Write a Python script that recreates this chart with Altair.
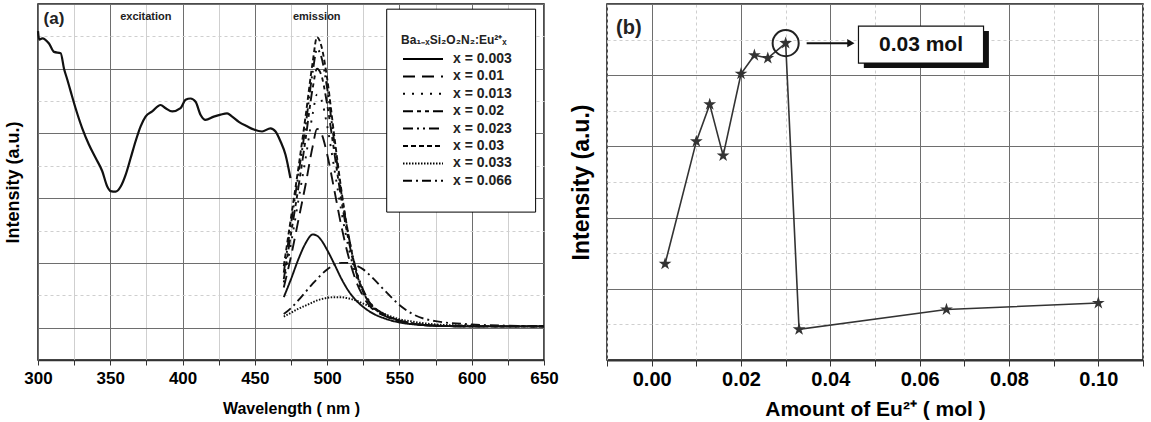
import altair as alt
import pandas as pd

# ---------------- Panel (a) data ----------------
exc_nm = [300.0, 300.8, 303.0, 307.6, 311.1, 315.7, 318.0, 320.3, 322.6, 326.0, 330.6, 335.2,
          339.9, 344.4, 347.9, 350.2, 353.7, 357.2, 360.6, 364.1, 367.5, 371.0, 374.4, 379.0,
          384.8, 388.3, 392.8, 398.6, 402.1, 405.5, 409.0, 412.4, 415.9, 421.6, 426.3, 430.8,
          434.3, 438.9, 444.6, 449.3, 455.0, 460.8, 464.3, 467.7, 471.2, 474.6]
exc_int = [4.58, 4.45, 4.47, 4.39, 4.26, 4.24, 4.00, 3.83, 3.65, 3.39, 3.08, 2.83,
           2.62, 2.42, 2.18, 2.11, 2.10, 2.18, 2.36, 2.62, 2.88, 3.11, 3.26, 3.34,
           3.44, 3.39, 3.34, 3.39, 3.52, 3.54, 3.49, 3.29, 3.21, 3.26, 3.29, 3.31,
           3.26, 3.18, 3.11, 3.06, 3.03, 3.08, 3.03, 2.88, 2.67, 2.31]

em_nm = [470, 475, 480, 485, 490, 493, 496, 500, 505, 510, 515, 520, 525, 530, 540, 550, 560, 575, 600, 625, 650]
em_x0003 = [0.47, 0.75, 1.05, 1.30, 1.44, 1.42, 1.35, 1.20, 0.98, 0.75, 0.56, 0.42, 0.32, 0.24, 0.14, 0.08, 0.05, 0.03, 0.02, 0.02, 0.02]
em_x0010 = [0.62, 1.10, 1.65, 2.20, 2.80, 3.07, 3.00, 2.68, 2.12, 1.55, 1.08, 0.72, 0.48, 0.32, 0.18, 0.10, 0.06, 0.03, 0.02, 0.02, 0.02]
em_x0013 = [0.70, 1.30, 1.95, 2.60, 3.30, 3.60, 3.52, 3.12, 2.45, 1.78, 1.22, 0.80, 0.52, 0.35, 0.19, 0.10, 0.06, 0.03, 0.02, 0.02, 0.02]
em_x0020 = [0.75, 1.45, 2.15, 2.90, 3.70, 4.00, 3.90, 3.45, 2.70, 1.95, 1.33, 0.86, 0.56, 0.37, 0.20, 0.11, 0.06, 0.03, 0.02, 0.02, 0.02]
em_x0023 = [0.85, 1.60, 2.35, 3.10, 3.95, 4.30, 4.18, 3.70, 2.85, 2.05, 1.40, 0.90, 0.58, 0.38, 0.20, 0.11, 0.06, 0.03, 0.02, 0.02, 0.02]
em_x0030 = [0.95, 1.70, 2.45, 3.25, 4.10, 4.49, 4.35, 3.85, 2.95, 2.10, 1.40, 0.88, 0.55, 0.36, 0.19, 0.10, 0.06, 0.03, 0.02, 0.02, 0.02]
em_x0033 = [0.17, 0.23, 0.29, 0.34, 0.39, 0.42, 0.44, 0.46, 0.47, 0.47, 0.45, 0.42, 0.37, 0.32, 0.21, 0.13, 0.09, 0.05, 0.03, 0.02, 0.02]
em_x0066 = [0.21, 0.30, 0.42, 0.55, 0.68, 0.75, 0.82, 0.90, 0.97, 1.00, 1.00, 0.96, 0.90, 0.80, 0.57, 0.35, 0.20, 0.10, 0.05, 0.03, 0.02]

series_labels = ["x = 0.003", "x = 0.01", "x = 0.013", "x = 0.02",
                 "x = 0.023", "x = 0.03", "x = 0.033", "x = 0.066"]
series_values = [em_x0003, em_x0010, em_x0013, em_x0020, em_x0023, em_x0030, em_x0033, em_x0066]
series_dashes = [[1, 0], [12, 7], [2, 7], [10, 4, 4, 4, 4, 4],
                 [10, 4, 2, 4, 2, 4], [5, 3], [1.5, 1.5], [9, 4, 2, 4]]

a_x_ticks = [300, 325, 350, 375, 400, 425, 450, 475, 500, 525, 550, 575, 600, 625, 650]
a_y_ticks = [-0.5, 0, 0.5, 1, 1.5, 2, 2.5, 3, 3.5, 4, 4.5, 5]

# ---------------- Panel (b) data ----------------
eu_mol = [0.003, 0.010, 0.013, 0.016, 0.020, 0.023, 0.026, 0.030, 0.033, 0.066, 0.100]
eu_int = [1.35, 3.07, 3.59, 2.87, 4.02, 4.28, 4.24, 4.45, 0.43, 0.71, 0.80]

b_x_ticks = [-0.01, 0.0, 0.01, 0.02, 0.03, 0.04, 0.05, 0.06, 0.07, 0.08, 0.09, 0.10, 0.11]
b_y_ticks = [0, 0.5, 1, 1.5, 2, 2.5, 3, 3.5, 4, 4.5, 5]

FONT = "Liberation Sans"
LEGEND_LINE = "M-1,0H7"

def grid_color(test):
    return {"condition": {"test": test, "value": "#6e6e6e"}, "value": "#cfcfcf"}

def grid_dash(test):
    return {"condition": {"test": test, "value": []}, "value": [3, 3]}

# ================= Panel (a) =================
exc_df = pd.DataFrame({"nm": exc_nm, "val": exc_int})
rows = []
for lab, vals in zip(series_labels, series_values):
    for w, v in zip(em_nm, vals):
        rows.append({"nm": w, "val": v, "series": lab})
em_df = pd.DataFrame(rows)

xa = alt.X("nm:Q", scale=alt.Scale(domain=[300, 650], nice=False, zero=False),
           axis=alt.Axis(values=a_x_ticks, title="Wavelength ( nm )",
                         labelExpr="datum.value % 50 == 0 ? datum.label : ''",
                         labelFlush=False, labelOverlap=False,
                         labelFontSize=17, labelFontWeight="bold", labelFont=FONT,
                         labelPadding=5, tickSize=5, tickColor="#333", domainColor="#333",
                         domainWidth=1.5, titleFontSize=16, titleFontWeight="bold",
                         titleFont=FONT, titlePadding=14,
                         gridColor=grid_color("datum.value % 50 == 0"), gridWidth=1))
ya = alt.Y("val:Q", scale=alt.Scale(domain=[-0.5, 5], nice=False, zero=False),
           axis=alt.Axis(values=a_y_ticks, title="Intensity (a.u.)", labels=False, ticks=False,
                         domain=False, titleFontSize=18, titleFontWeight="bold", titleFont=FONT,
                         titlePadding=16, minExtent=0,
                         gridColor=grid_color("datum.value % 1 == 0"),
                         gridDash=grid_dash("datum.value % 1 == 0")))

legbox_df = pd.DataFrame({"nm": [541.2], "nm2": [644.2], "val": [4.92], "val2": [1.785]})
legbox = alt.Chart(legbox_df).mark_rect(fill="white", stroke="black", strokeWidth=1).encode(
    x=xa, x2="nm2:Q", y=ya, y2="val2:Q")

exc = alt.Chart(exc_df).mark_line(color="#111", strokeWidth=2.2, interpolate="monotone").encode(x=xa, y=ya)

em = alt.Chart(em_df).mark_line(color="#111", strokeWidth=1.9, interpolate="monotone").encode(
    x=xa, y=ya,
    strokeDash=alt.StrokeDash("series:N",
        scale=alt.Scale(domain=series_labels, range=series_dashes),
        legend=alt.Legend(title="Ba₁₋ₓSi₂O₂N₂:Eu²⁺ₓ", orient="none", legendX=363, legendY=31,
                          symbolType=LEGEND_LINE, symbolSize=100, symbolStrokeWidth=2,
                          symbolStrokeColor="black", symbolFillColor="transparent",
                          labelFont=FONT, labelFontSize=14,
                          labelFontWeight="bold", labelColor="#222", labelOffset=38,
                          titleFont=FONT, titleFontSize=12, titleFontWeight="bold",
                          titleColor="#222", titlePadding=5, rowPadding=3.4, padding=0)),
    detail="series:N")

a_text_df = pd.DataFrame({"nm": [311.0, 374.6, 492.8], "val": [4.77, 4.8, 4.8],
                          "txt": ["(a)", "excitation", "emission"],
                          "size": [17, 11, 11]})
a_text = alt.Chart(a_text_df).mark_text(font=FONT, fontWeight="bold", color="#222").encode(
    x=xa, y=ya, text="txt:N", size=alt.Size("size:Q", scale=None, legend=None))

panel_a = alt.layer(legbox, exc, em, a_text).properties(width=506, height=356)

# ================= Panel (b) =================
b_df = pd.DataFrame({"mol": eu_mol, "val": eu_int})

xb = alt.X("mol:Q", scale=alt.Scale(domain=[-0.01, 0.11], nice=False, zero=False),
           axis=alt.Axis(values=b_x_ticks, title="Amount of Eu²⁺ ( mol )",
                         labelExpr="(abs(round(datum.value*100)) % 2 == 0 && datum.value > -0.005 && datum.value < 0.105) ? format(datum.value, '.2f') : ''",
                         labelFlush=False, labelOverlap=False,
                         labelFontSize=20, labelFontWeight="bold", labelFont=FONT,
                         labelPadding=3, tickSize=6, tickColor="#333", domainColor="#333",
                         domainWidth=2, titleFontSize=21, titleFontWeight="bold",
                         titleFont=FONT, titlePadding=9,
                         gridColor=grid_color("abs(round(datum.value*100)) % 2 == 0"),
                         gridDash=grid_dash("abs(round(datum.value*100)) % 2 == 0")))
yb = alt.Y("val:Q", scale=alt.Scale(domain=[0, 5], nice=False, zero=False),
           axis=alt.Axis(values=b_y_ticks, title="Intensity (a.u.)", labels=False, ticks=False,
                         domain=False, titleFontSize=23, titleFontWeight="bold", titleFont=FONT,
                         titlePadding=14, minExtent=0,
                         gridColor=grid_color("datum.value % 1 == 0"),
                         gridDash=grid_dash("datum.value % 1 == 0")))

STAR = "M0,-1L0.2245,-0.309L0.951,-0.309L0.363,0.118L0.588,0.809L0,0.382L-0.588,0.809L-0.363,0.118L-0.951,-0.309L-0.2245,-0.309Z"

b_line = alt.Chart(b_df).mark_line(color="#333", strokeWidth=1.6).encode(x=xb, y=yb)
b_pts = alt.Chart(b_df).mark_point(shape=STAR, filled=True, color="#333", size=180, opacity=1).encode(x=xb, y=yb)

callout_mol = [0.030]
callout_int = [4.45]
circ_df = pd.DataFrame({"mol": callout_mol, "val": callout_int})
b_circ = alt.Chart(circ_df).mark_point(shape="circle", filled=False, color="#222", size=680,
                                       strokeWidth=2, opacity=1).encode(x=xb, y=yb)

arrow_df = pd.DataFrame({"mol": [0.0347], "mol2": [0.0442], "val": [4.45]})
b_arrow = alt.Chart(arrow_df).mark_rule(color="#111", strokeWidth=2).encode(x=xb, x2="mol2:Q", y=yb)
head_df = pd.DataFrame({"mol": [0.0446], "val": [4.45]})
b_head = alt.Chart(head_df).mark_point(shape="triangle-right", filled=True, color="#111",
                                       size=70, opacity=1).encode(x=xb, y=yb)

shadow_df = pd.DataFrame({"mol": [0.0475], "mol2": [0.0755], "val": [4.62], "val2": [4.10]})
b_shadow = alt.Chart(shadow_df).mark_rect(fill="#111").encode(x=xb, x2="mol2:Q", y=yb, y2="val2:Q")
box_df = pd.DataFrame({"mol": [0.0463], "mol2": [0.0743], "val": [4.69], "val2": [4.17]})
b_box = alt.Chart(box_df).mark_rect(fill="white", stroke="#111", strokeWidth=1.2).encode(
    x=xb, x2="mol2:Q", y=yb, y2="val2:Q")
boxtxt_df = pd.DataFrame({"mol": [0.0603], "val": [4.43], "txt": ["0.03 mol"]})
b_boxtxt = alt.Chart(boxtxt_df).mark_text(font=FONT, fontSize=21, fontWeight="bold", color="#111").encode(
    x=xb, y=yb, text="txt:N")

blab_df = pd.DataFrame({"mol": [-0.0051], "val": [4.66], "txt": ["(b)"]})
b_lab = alt.Chart(blab_df).mark_text(font=FONT, fontSize=20, fontWeight="bold", color="#222").encode(
    x=xb, y=yb, text="txt:N")

panel_b = alt.layer(b_line, b_pts, b_circ, b_arrow, b_head, b_shadow, b_box, b_boxtxt, b_lab).properties(
    width=536, height=356)

chart = alt.hconcat(panel_a, panel_b, spacing=10).properties(
    padding={"left": 3, "top": 3, "right": 0, "bottom": 0}
).configure_view(stroke="#111", strokeWidth=1.5).configure_axis(gridWidth=1)

chart.save("out.html", embed_options={"renderer": "svg", "actions": False})
